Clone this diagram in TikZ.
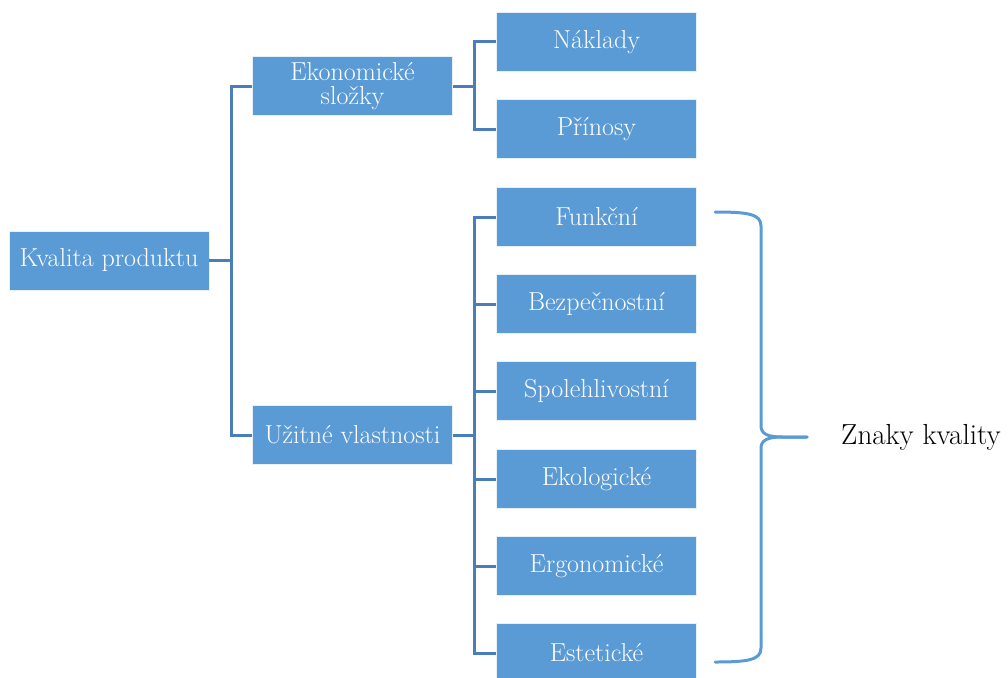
\documentclass[tikz,border=0pt]{standalone}
\definecolor{boxfill}{HTML}{5B9BD5}
\definecolor{linkcol}{HTML}{4A7EBB}
\definecolor{bracecol}{HTML}{5B9BD5}
\tikzset{
  box/.style={draw=white!85!boxfill, line width=0.8pt, fill=boxfill, text=white,
    minimum width=200pt, minimum height=59pt, inner sep=0pt, align=center,
    font=\rmfamily\fontsize{26}{26}\selectfont},
  link/.style={draw=linkcol, line width=3pt},
  bracestyle/.style={draw=bracecol, line width=3pt, line join=round, line cap=round}
}
\begin{document}
\begin{tikzpicture}[x=1pt, y=-1pt]
  \useasboundingbox (0,0) rectangle (1008,677);
  % tree of boxes
  \node[box] (root) at (109,260.5) {Kvalita produktu};
  \node[box] (eko)  at (352.5,86) {Ekonomické\\[-2pt]složky};
  \node[box] (uzit) at (352.5,435) {Užitné vlastnosti};
  \node[box] (nak)  at (596.5,42)  {Náklady};
  \node[box] (pri)  at (596.5,129) {Přínosy};
  \node[box] (fun)  at (596.5,217) {Funkční};
  \node[box] (bez)  at (596.5,304) {Bezpečnostní};
  \node[box] (spo)  at (596.5,391) {Spolehlivostní};
  \node[box] (ekol) at (596.5,479) {Ekologické};
  \node[box] (erg)  at (596.5,566) {Ergonomické};
  \node[box] (est)  at (596.5,653) {Estetické};
  % elbow connectors
  \draw[link] (root.east) -- ++(22,0) coordinate (rj);
  \draw[link] (eko.west) -| (rj) |- (uzit.west);
  \draw[link] (eko.east) -- ++(22,0) coordinate (ej);
  \draw[link] (nak.west) -| (ej) |- (pri.west);
  \draw[link] (uzit.east) -- ++(22,0) coordinate (uj);
  \draw[link] (fun.west) -| (uj) |- (est.west);
  \foreach \n in {bez,spo,ekol,erg} \draw[link] (uj |- \n.west) -- (\n.west);
  % curly brace
  \coordinate (btop) at (715,212);
  \coordinate (bbot) at (715,662);
  \coordinate (btip) at (807,437);
  \draw[bracestyle] (btop) .. controls (748,212) and (761,214) .. (761,226)
    -- (761,426) .. controls (761,434) and (768,437) .. (782,437) -- (btip);
  \draw[bracestyle] (btip) -- (782,437) .. controls (768,437) and (761,440) .. (761,448)
    -- (761,648) .. controls (761,660) and (748,662) .. (bbot);
  \node[anchor=west, inner sep=0pt, font=\rmfamily\fontsize{29}{32}\selectfont] (zk) at (841,437) {Znaky kvality};
\end{tikzpicture}
\end{document}
